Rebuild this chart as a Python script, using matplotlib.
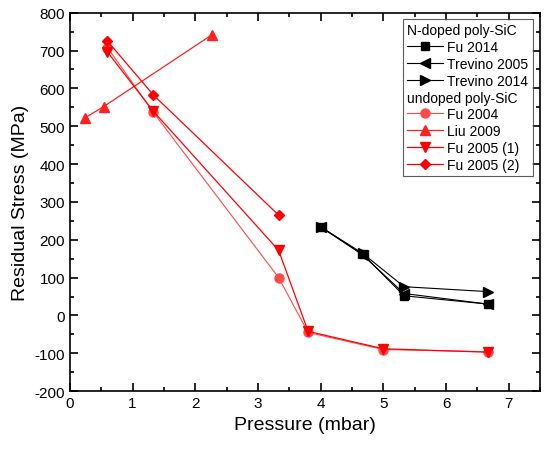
import numpy as np
import matplotlib
matplotlib.use("Agg")
import matplotlib.pyplot as plt
from matplotlib.lines import Line2D
from matplotlib.ticker import MultipleLocator

plt.rcParams['font.family'] = ['Liberation Sans', 'DejaVu Sans']
plt.rcParams['axes.unicode_minus'] = False

# N-doped poly-SiC
fu2014_x = [4.0, 4.67, 5.33, 6.67]
fu2014_y = [234, 162, 52, 30]
trev2005_x = [4.0, 4.67, 5.33, 6.67]
trev2005_y = [234, 160, 58, 30]
trev2014_x = [4.0, 4.67, 5.33, 6.67]
trev2014_y = [234, 164, 76, 63]

# undoped poly-SiC
fu2004_x = [0.6, 1.33, 3.33, 3.8, 5.0, 6.67]
fu2004_y = [708, 537, 100, -45, -90, -96]
liu2009_x = [0.24, 0.54, 2.27]
liu2009_y = [522, 552, 742]
fu2005a_x = [0.6, 1.33, 3.33, 3.8, 5.0, 6.67]
fu2005a_y = [696, 540, 172, -42, -88, -97]
fu2005b_x = [0.6, 1.33, 3.33]
fu2005b_y = [725, 583, 265]

fig = plt.figure(figsize=(5.5, 4.56), dpi=100)
ax = fig.add_axes([0.127, 0.140, 0.855, 0.830])

h_fu2014, = ax.plot(fu2014_x, fu2014_y, color='black', lw=0.8, marker='s', ms=5.5)
h_tr05, = ax.plot(trev2005_x, trev2005_y, color='black', lw=0.8, marker='<', ms=7)
h_tr14, = ax.plot(trev2014_x, trev2014_y, color='black', lw=0.8, marker='>', ms=7)

h_fu04, = ax.plot(fu2004_x, fu2004_y, color='#ff4a4a', lw=0.8, marker='o', ms=6.5)
h_liu, = ax.plot(liu2009_x, liu2009_y, color='#ff2020', lw=0.9, marker='^', ms=7)
h_fu05a, = ax.plot(fu2005a_x, fu2005a_y, color='#ff0000', lw=0.9, marker='v', ms=7)
h_fu05b, = ax.plot(fu2005b_x, fu2005b_y, color='#ff0000', lw=0.9, marker='D', ms=5.5)

ax.set_xlim(0, 7.5)
ax.set_ylim(-200, 800)
ax.xaxis.set_major_locator(MultipleLocator(1))
ax.xaxis.set_minor_locator(MultipleLocator(0.5))
ax.yaxis.set_major_locator(MultipleLocator(100))
ax.yaxis.set_minor_locator(MultipleLocator(50))
ax.tick_params(which='both', direction='in', top=True, right=True, width=1.2, labelsize=11)
ax.tick_params(which='major', length=6)
ax.tick_params(which='minor', length=3)
for s in ax.spines.values():
    s.set_linewidth(1.2)

ax.set_xlabel('Pressure (mbar)', fontsize=14)
ax.set_ylabel('Residual Stress (MPa)', fontsize=14)

blank = Line2D([], [], linestyle='none')
handles = [blank, h_fu2014, h_tr05, h_tr14, blank, h_fu04, h_liu, h_fu05a, h_fu05b]
labels = ['N-doped poly-SiC', 'Fu 2014', 'Trevino 2005', 'Trevino 2014',
          'undoped poly-SiC', 'Fu 2004', 'Liu 2009', 'Fu 2005 (1)', 'Fu 2005 (2)']
leg = ax.legend(handles, labels, loc='upper right', bbox_to_anchor=(0.99, 0.99),
                fontsize=10, frameon=True, fancybox=False, edgecolor='#333333',
                borderpad=0.3, labelspacing=0.2, handlelength=2.6, handletextpad=0.3,
                borderaxespad=0.2)
leg.get_frame().set_linewidth(0.8)

# pull the two header rows to the left edge
rows = []
for col in leg._legend_handle_box.get_children():
    rows.extend(col.get_children())
for i in (0, 4):
    rows[i].get_children()[0].width = 0
    rows[i].sep = 0

fig.savefig('out.png', dpi=100)
